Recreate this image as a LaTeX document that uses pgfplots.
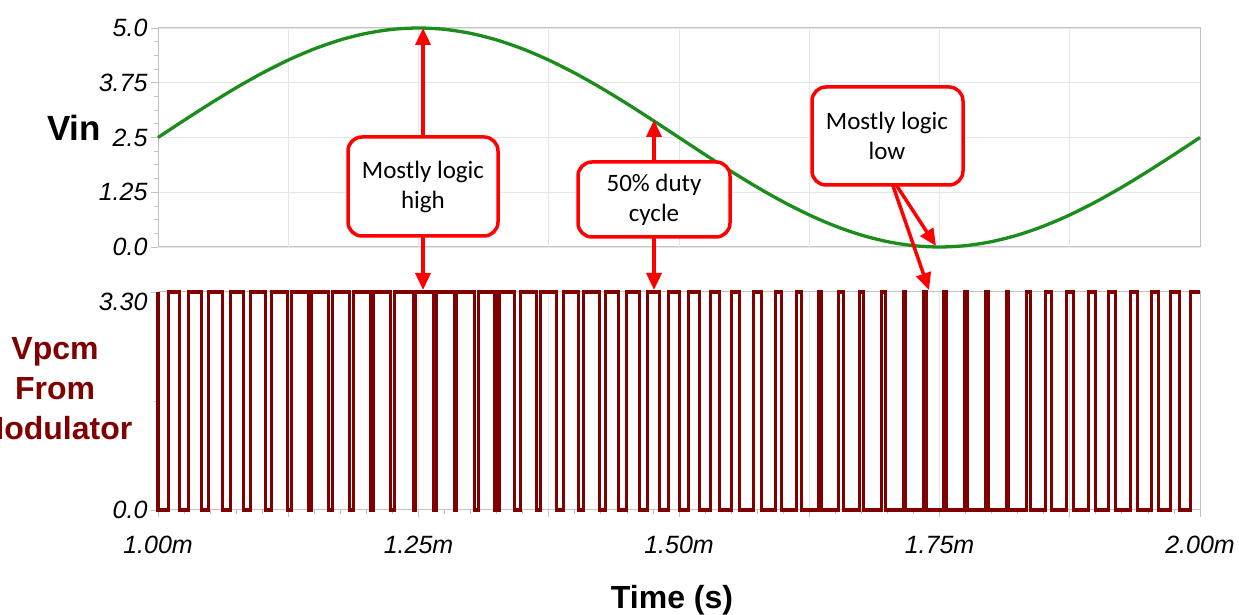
\documentclass[border=0pt]{standalone}
\usepackage{pgfplots}
\pgfplotsset{compat=1.18}
\usetikzlibrary{arrows.meta}
\usepackage{fontspec}
\setmainfont{Liberation Sans}
\newfontfamily\callfont{Carlito}
\definecolor{vgreen}{RGB}{28,140,28}
\definecolor{vred}{RGB}{128,0,0}
\definecolor{cred}{RGB}{255,0,0}
\definecolor{axgray}{RGB}{195,195,195}
\definecolor{gridgray}{RGB}{230,230,230}
\begin{document}
\begin{tikzpicture}[x=1pt,y=1pt]
\useasboundingbox (0,0) rectangle (1239,615);
\pgfplotsset{
  every axis/.append style={
    scale only axis, width=1042pt, clip=false,
    xmin=1, xmax=2,
    axis line style={axgray, line width=1pt},
    tick style={axgray, line width=0.8pt},
    tick align=outside, tick pos=left,
    major tick length=7pt, minor tick length=4pt,
    grid style={gridgray, line width=0.8pt},
    yticklabel style={font=\fontsize{25}{25}\selectfont\itshape, text=black},
    xticklabel style={font=\fontsize{25}{25}\selectfont\itshape, text=black},
  }
}
% ---------- top: Vin ----------
\begin{axis}[at={(158pt,368pt)}, anchor=south west, height=219pt,
  ymin=0, ymax=5,
  ytick={0,1.25,2.5,3.75,5}, yticklabels={0.0,1.25,2.5,3.75,5.0},
  minor y tick num=3, ymajorgrids,
  xtick=\empty,
  extra x ticks={1.125,1.25,1.375,1.5,1.625,1.75,1.875},
  extra x tick labels={},
  extra x tick style={grid=major, major tick length=0pt},
]
\addplot[vgreen, line width=3.3pt, smooth] coordinates {
(1.000,2.5000) (1.025,2.8911) (1.050,3.2725) (1.075,3.6350) (1.100,3.9695)
(1.125,4.2678) (1.150,4.5225) (1.175,4.7275) (1.200,4.8776) (1.225,4.9692)
(1.250,5.0000) (1.275,4.9692) (1.300,4.8776) (1.325,4.7275) (1.350,4.5225)
(1.375,4.2678) (1.400,3.9695) (1.425,3.6350) (1.450,3.2725) (1.475,2.8911)
(1.500,2.5000) (1.525,2.1089) (1.550,1.7275) (1.575,1.3650) (1.600,1.0305)
(1.625,0.7322) (1.650,0.4775) (1.675,0.2725) (1.700,0.1224) (1.725,0.0308)
(1.750,0.0000) (1.775,0.0308) (1.800,0.1224) (1.825,0.2725) (1.850,0.4775)
(1.875,0.7322) (1.900,1.0305) (1.925,1.3650) (1.950,1.7275) (1.975,2.1089)
(2.000,2.5000)};
\end{axis}
% ---------- bottom: Vpcm ----------
\begin{axis}[at={(158pt,105pt)}, anchor=south west, height=218pt,
  ymin=0, ymax=3.3,
  ytick={0}, yticklabels={0.0}, minor ytick={1.65},
  extra y ticks={3.3}, extra y tick labels={3.30},
  extra y tick style={yticklabel style={yshift=-10pt}},
  xtick={1,1.125,1.25,1.375,1.5,1.625,1.75,1.875,2},
  xticklabels={1.00m,,1.25m,,1.50m,,1.75m,,2.00m},
  minor x tick num=4, xmajorgrids,
  xticklabel style={yshift=-16pt},
]
\addplot[vred, line width=3.2pt, const plot] coordinates {
(1.0,3.3) (1.0,0) (1.01017,3.3) (1.02054,0) (1.02937,3.3) (1.04165,0) (1.04856,3.3)
(1.06180,0) (1.06967,3.3) (1.08196,0) (1.08887,3.3) (1.10307,0) (1.10902,3.3)
(1.12418,0) (1.12821,3.3) (1.14424,0) (1.14760,3.3) (1.16392,0) (1.16727,3.3)
(1.18407,0) (1.18743,3.3) (1.20393,0) (1.20681,3.3) (1.22342,0) (1.22678,3.3)
(1.24501,0) (1.24741,3.3) (1.26440,0) (1.26727,3.3) (1.28436,0) (1.28676,3.3)
(1.30403,0) (1.30739,3.3) (1.32342,0) (1.32726,3.3) (1.34203,0) (1.34798,3.3)
(1.36315,0) (1.36718,3.3) (1.38234,0) (1.38925,3.3) (1.40345,0) (1.40845,3.3)
(1.42361,0) (1.42956,3.3) (1.44184,0) (1.44971,3.3) (1.46200,0) (1.46987,3.3)
(1.48119,0) (1.49002,3.3) (1.50038,0) (1.50921,3.3) (1.51958,0) (1.53033,3.3)
(1.53877,0) (1.55048,3.3) (1.55797,0) (1.57159,3.3) (1.57908,0) (1.59271,3.3)
(1.59827,0) (1.61286,3.3) (1.61747,0) (1.63397,3.3) (1.63666,0) (1.65317,3.3)
(1.65777,0) (1.67313,3.3) (1.67716,0) (1.69424,3.3) (1.69827,0) (1.71536,3.3)
(1.71747,0) (1.73455,3.3) (1.73762,0) (1.75374,3.3) (1.75681,0) (1.77390,3.3)
(1.77697,0) (1.79405,3.3) (1.79712,0) (1.81420,3.3) (1.81631,0) (1.83340,3.3)
(1.83743,0) (1.85182,3.3) (1.85739,0) (1.87198,3.3) (1.87850,0) (1.89309,3.3)
(1.89962,0) (1.91228,3.3) (1.91881,0) (1.93340,3.3) (1.93992,0) (1.95355,3.3)
(1.96008,0) (1.97179,3.3) (1.98023,0) (1.99098,3.3) (2.0,3.3)};
\end{axis}
% ---------- labels ----------
\node[font=\fontsize{35}{35}\selectfont\bfseries] at (74,487) {Vin};
\node[font=\fontsize{32}{40}\selectfont\bfseries, text=vred, align=center] at (55,226) {Vpcm\\From\\Modulator};
\node[font=\fontsize{32}{32}\selectfont\bfseries] at (672,15) {Time (s)};
% ---------- callouts ----------
\tikzset{arr/.style={cred, line width=3.5pt, -{Triangle[length=17pt,width=15pt]}},
  callout/.style={draw=cred, line width=3.5pt, fill=white, rounded corners=14pt}}
\draw[arr] (423,470) -- (423,587);
\draw[arr] (423,385) -- (423,325);
\draw[arr] (654,448) -- (654,495);
\draw[arr] (654,383) -- (654,325);
\draw[arr] (893,435) -- (936,369);
\draw[arr] (891,435) -- (929,325);
\draw[callout] (348,379) rectangle (498,478);
\draw[callout] (578,378) rectangle (730,453);
\draw[callout] (812,430) rectangle (963,528);
\node[font=\callfont\fontsize{25}{30}\selectfont, align=center] at (423,428) {Mostly logic\\high};
\node[font=\callfont\fontsize{25}{30}\selectfont, align=center] at (654,415) {50\% duty\\cycle};
\node[font=\callfont\fontsize{25}{30}\selectfont, align=center] at (887,479) {Mostly logic\\low};
\end{tikzpicture}
\end{document}
